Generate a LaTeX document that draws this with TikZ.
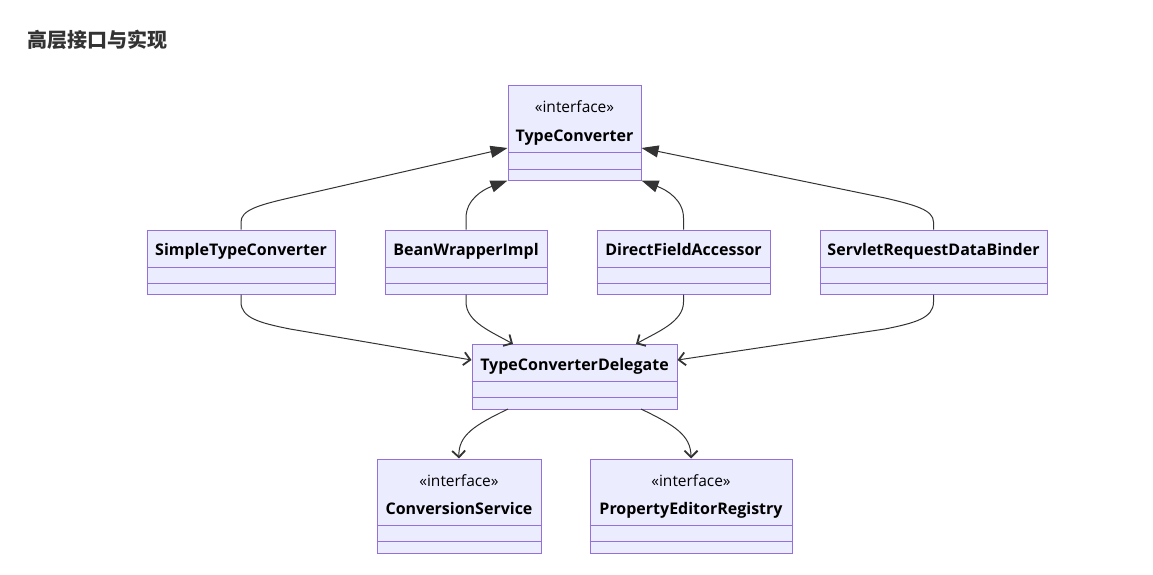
\documentclass[tikz,border=0pt]{standalone}
\usepackage{fontspec}
\setmainfont{Open Sans}
\newfontfamily\cjk{Noto Sans CJK SC}
\usetikzlibrary{arrows.meta}
\definecolor{boxfill}{HTML}{ECECFF}
\definecolor{boxline}{HTML}{9370DB}
\definecolor{edgec}{HTML}{333333}
\definecolor{titlec}{HTML}{333333}
\begin{document}
\begin{tikzpicture}[x=1pt,y=-1pt,
  cls/.style={draw=boxline, fill=boxfill, line width=1pt, inner sep=0pt, rectangle},
  nm/.style={font=\bfseries\fontsize{16}{19}\selectfont, text=black, inner sep=0pt, anchor=base},
  st/.style={font=\fontsize{15.5}{18}\selectfont, text=black, inner sep=0pt, anchor=base},
  div/.style={draw=boxline, line width=1pt},
  impl/.style={draw=edgec, line width=1pt, -{Triangle[length=17pt,width=12pt]}},
  dep/.style={draw=edgec, line width=1pt, -{Straight Barb[length=6.5pt,width=13pt,line width=1.8pt]}}
]
\useasboundingbox (0,0) rectangle (1153,575);
\node[anchor=west, inner sep=0pt, text=titlec, font=\cjk\bfseries\fontsize{20}{23}\selectfont] (title) at (27,40) {高层接口与实现};

% TypeConverter
\node[cls, minimum width=133pt, minimum height=94pt] (tc) at (574.5,133) {};
\node[st] (tcs) at (574.5,112.5) {«interface»};
\node[nm] (tcn) at (574.5,141.5) {TypeConverter};
\draw[div] (tc.west |- 0,152) -- (tc.east |- 0,152);
\draw[div] (tc.west |- 0,169) -- (tc.east |- 0,169);

% middle row
\node[cls, minimum width=188pt, minimum height=64pt] (stc) at (241,262) {};
\node[nm] at (241,255.5) {SimpleTypeConverter};
\node[cls, minimum width=162pt, minimum height=64pt] (bwi) at (466,262) {};
\node[nm] at (466,255.5) {BeanWrapperImpl};
\node[cls, minimum width=173pt, minimum height=64pt] (dfa) at (683.5,262) {};
\node[nm] at (683.5,255.5) {DirectFieldAccessor};
\node[cls, minimum width=227pt, minimum height=64pt] (srd) at (933.5,262) {};
\node[nm] at (933.5,255.5) {ServletRequestDataBinder};
\foreach \n in {stc,bwi,dfa,srd}{
  \draw[div] (\n.west |- 0,267) -- (\n.east |- 0,267);
  \draw[div] (\n.west |- 0,283) -- (\n.east |- 0,283);
}

% delegate
\node[cls, minimum width=205pt, minimum height=65pt] (tcd) at (574.5,376.5) {};
\node[nm] at (574.5,370.5) {TypeConverterDelegate};
\draw[div] (tcd.west |- 0,381) -- (tcd.east |- 0,381);
\draw[div] (tcd.west |- 0,397) -- (tcd.east |- 0,397);

% bottom
\node[cls, minimum width=164pt, minimum height=94pt] (cs) at (459,506) {};
\node[st] at (459,486.5) {«interface»};
\node[nm] at (459,514.5) {ConversionService};
\node[cls, minimum width=202pt, minimum height=94pt] (per) at (691,506) {};
\node[st] at (691,486.5) {«interface»};
\node[nm] at (691,514.5) {PropertyEditorRegistry};
\foreach \n in {cs,per}{
  \draw[div] (\n.west |- 0,525) -- (\n.east |- 0,525);
  \draw[div] (\n.west |- 0,541) -- (\n.east |- 0,541);
}

% implementation edges
\draw[impl] (stc.north) -- (241,222) .. controls (241,210) and (259,205) .. (289,198) -- (tc.west |- 0,148);
\draw[impl] (bwi.north) -- (466,218) .. controls (466,200) and (482,190) .. (tc.south west);
\draw[impl] (dfa.north) -- (683.5,218) .. controls (683.5,200) and (667,190) .. (tc.south east);
\draw[impl] (srd.north) -- (933.5,222) .. controls (933.5,210) and (915,205) .. (885,198) -- (tc.east |- 0,148);

% dependency edges
\draw[dep] (stc.south) -- (241,302) .. controls (241,318) and (260,323) .. (290,329) -- (tcd.west |- 0,360);
\draw[dep] (bwi.south) -- (466,302) .. controls (466,322) and (492,332) .. (513,344);
\draw[dep] (dfa.south) -- (683.5,302) .. controls (683.5,322) and (657,332) .. (636,344);
\draw[dep] (srd.south) -- (933.5,302) .. controls (933.5,318) and (915,323) .. (885,329) -- (tcd.east |- 0,360);
\draw[dep] (508,409) .. controls (475,425) and (458,435) .. (cs.north);
\draw[dep] (641,409) .. controls (674,425) and (691,435) .. (per.north);
\end{tikzpicture}
\end{document}
